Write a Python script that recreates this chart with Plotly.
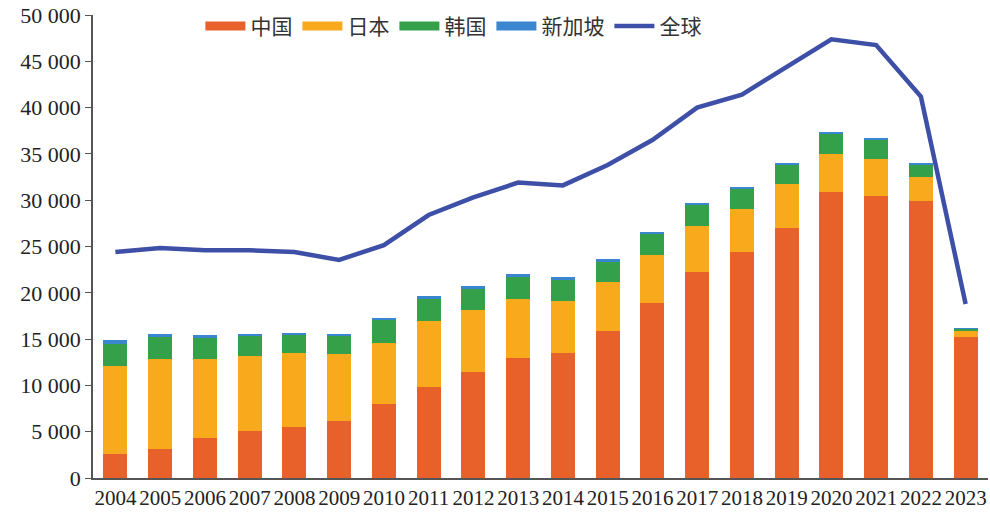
import plotly.graph_objects as go

# ---------------------------------------------------------------------------
# Data
# ---------------------------------------------------------------------------
YEARS = [str(y) for y in range(2004, 2024)]

# cumulative tops of each stacked segment
TOP_CHINA = [2.59, 3.1, 4.28, 5.07, 5.47, 6.2, 8.0, 9.86, 11.45, 13.0,
             13.53, 15.84, 18.9, 22.25, 24.4, 26.97, 30.85, 30.45, 29.88, 15.19]
TOP_JAPAN = [12.13, 12.85, 12.9, 13.2, 13.45, 13.4, 14.55, 16.99, 18.1, 19.3,
             19.08, 21.17, 24.1, 27.2, 29.05, 31.7, 35.0, 34.5, 32.5, 15.84]
TOP_KOREA = [14.47, 15.2, 15.2, 15.4, 15.4, 15.4, 17.1, 19.36, 20.4, 21.67,
             21.4, 23.3, 26.35, 29.5, 31.28, 33.9, 37.2, 36.6, 33.9, 16.1]
TOP_SING = [14.9, 15.5, 15.4, 15.6, 15.7, 15.6, 17.2, 19.7, 20.77, 22.0,
            21.7, 23.6, 26.6, 29.7, 31.4, 34.05, 37.3, 36.75, 34.0, 16.15]

GLOBAL = [24.4, 24.85, 24.6, 24.6, 24.4, 23.55, 25.15, 28.4, 30.3, 31.9,
          31.6, 33.8, 36.5, 40.0, 41.4, 44.4, 47.37, 46.76, 41.2, 18.8]

china = [round(v * 1000) for v in TOP_CHINA]
japan = [round((b - a) * 1000) for a, b in zip(TOP_CHINA, TOP_JAPAN)]
korea = [round((b - a) * 1000) for a, b in zip(TOP_JAPAN, TOP_KOREA)]
singapore = [round((b - a) * 1000) for a, b in zip(TOP_KOREA, TOP_SING)]
world = [round(v * 1000) for v in GLOBAL]

Y_TICKS = [0, 5000, 10000, 15000, 20000, 25000, 30000, 35000, 40000, 45000, 50000]

SERIES = [
    ("中国", china, "#E8602A"),
    ("日本", japan, "#F8A91C"),
    ("韩国", korea, "#34A04A"),
    ("新加坡", singapore, "#3A87CF"),
]
LINE_COLOR = "#3D4FA6"

FONT = "Liberation Serif, Times New Roman, Noto Sans CJK SC, serif"

fig = go.Figure()

for name, vals, color in SERIES:
    fig.add_trace(go.Bar(
        x=YEARS, y=vals, name=name, marker_color=color,
        marker_line_width=0, legendgroup=name, showlegend=False,
    ))
    # wide swatch for the legend
    fig.add_trace(go.Scatter(
        x=[YEARS[0]], y=[None], mode="lines", name=name,
        line=dict(color=color, width=9), legendgroup=name,
    ))

fig.add_trace(go.Scatter(
    x=YEARS, y=world, name="全球", mode="lines",
    line=dict(color=LINE_COLOR, width=4.5),
))

fig.update_layout(
    width=990, height=513,
    barmode="stack", bargap=0.46,
    paper_bgcolor="white", plot_bgcolor="white",
    separators=". ",
    font=dict(family=FONT, size=18, color="#222222"),
    margin=dict(l=93, r=2, t=15, b=35, autoexpand=False),
    showlegend=True,
    legend=dict(
        orientation="h", x=0.12, y=1.02, xanchor="left", yanchor="top",
        font=dict(size=21, color="#333333"), bgcolor="rgba(0,0,0,0)",
        itemwidth=40, tracegroupgap=0,
    ),
    xaxis=dict(
        type="category", range=[-0.5, 19.5],
        showline=True, linecolor="#555555", linewidth=1.5,
        ticks="", showgrid=False,
        tickfont=dict(size=21, family=FONT, color="#222222"),
    ),
    yaxis=dict(
        range=[0, 50000], tickvals=Y_TICKS, tickformat=",d",
        showline=True, linecolor="#555555", linewidth=1.5,
        ticks="outside", ticklen=6, tickcolor="#555555",
        showgrid=False, zeroline=False,
        tickfont=dict(size=22, family=FONT, color="#222222"),
    ),
)

fig.write_html(
    "out.html",
    config={"displayModeBar": False},
    post_script="document.body.style.margin='0';document.body.style.overflow='hidden';",
)
